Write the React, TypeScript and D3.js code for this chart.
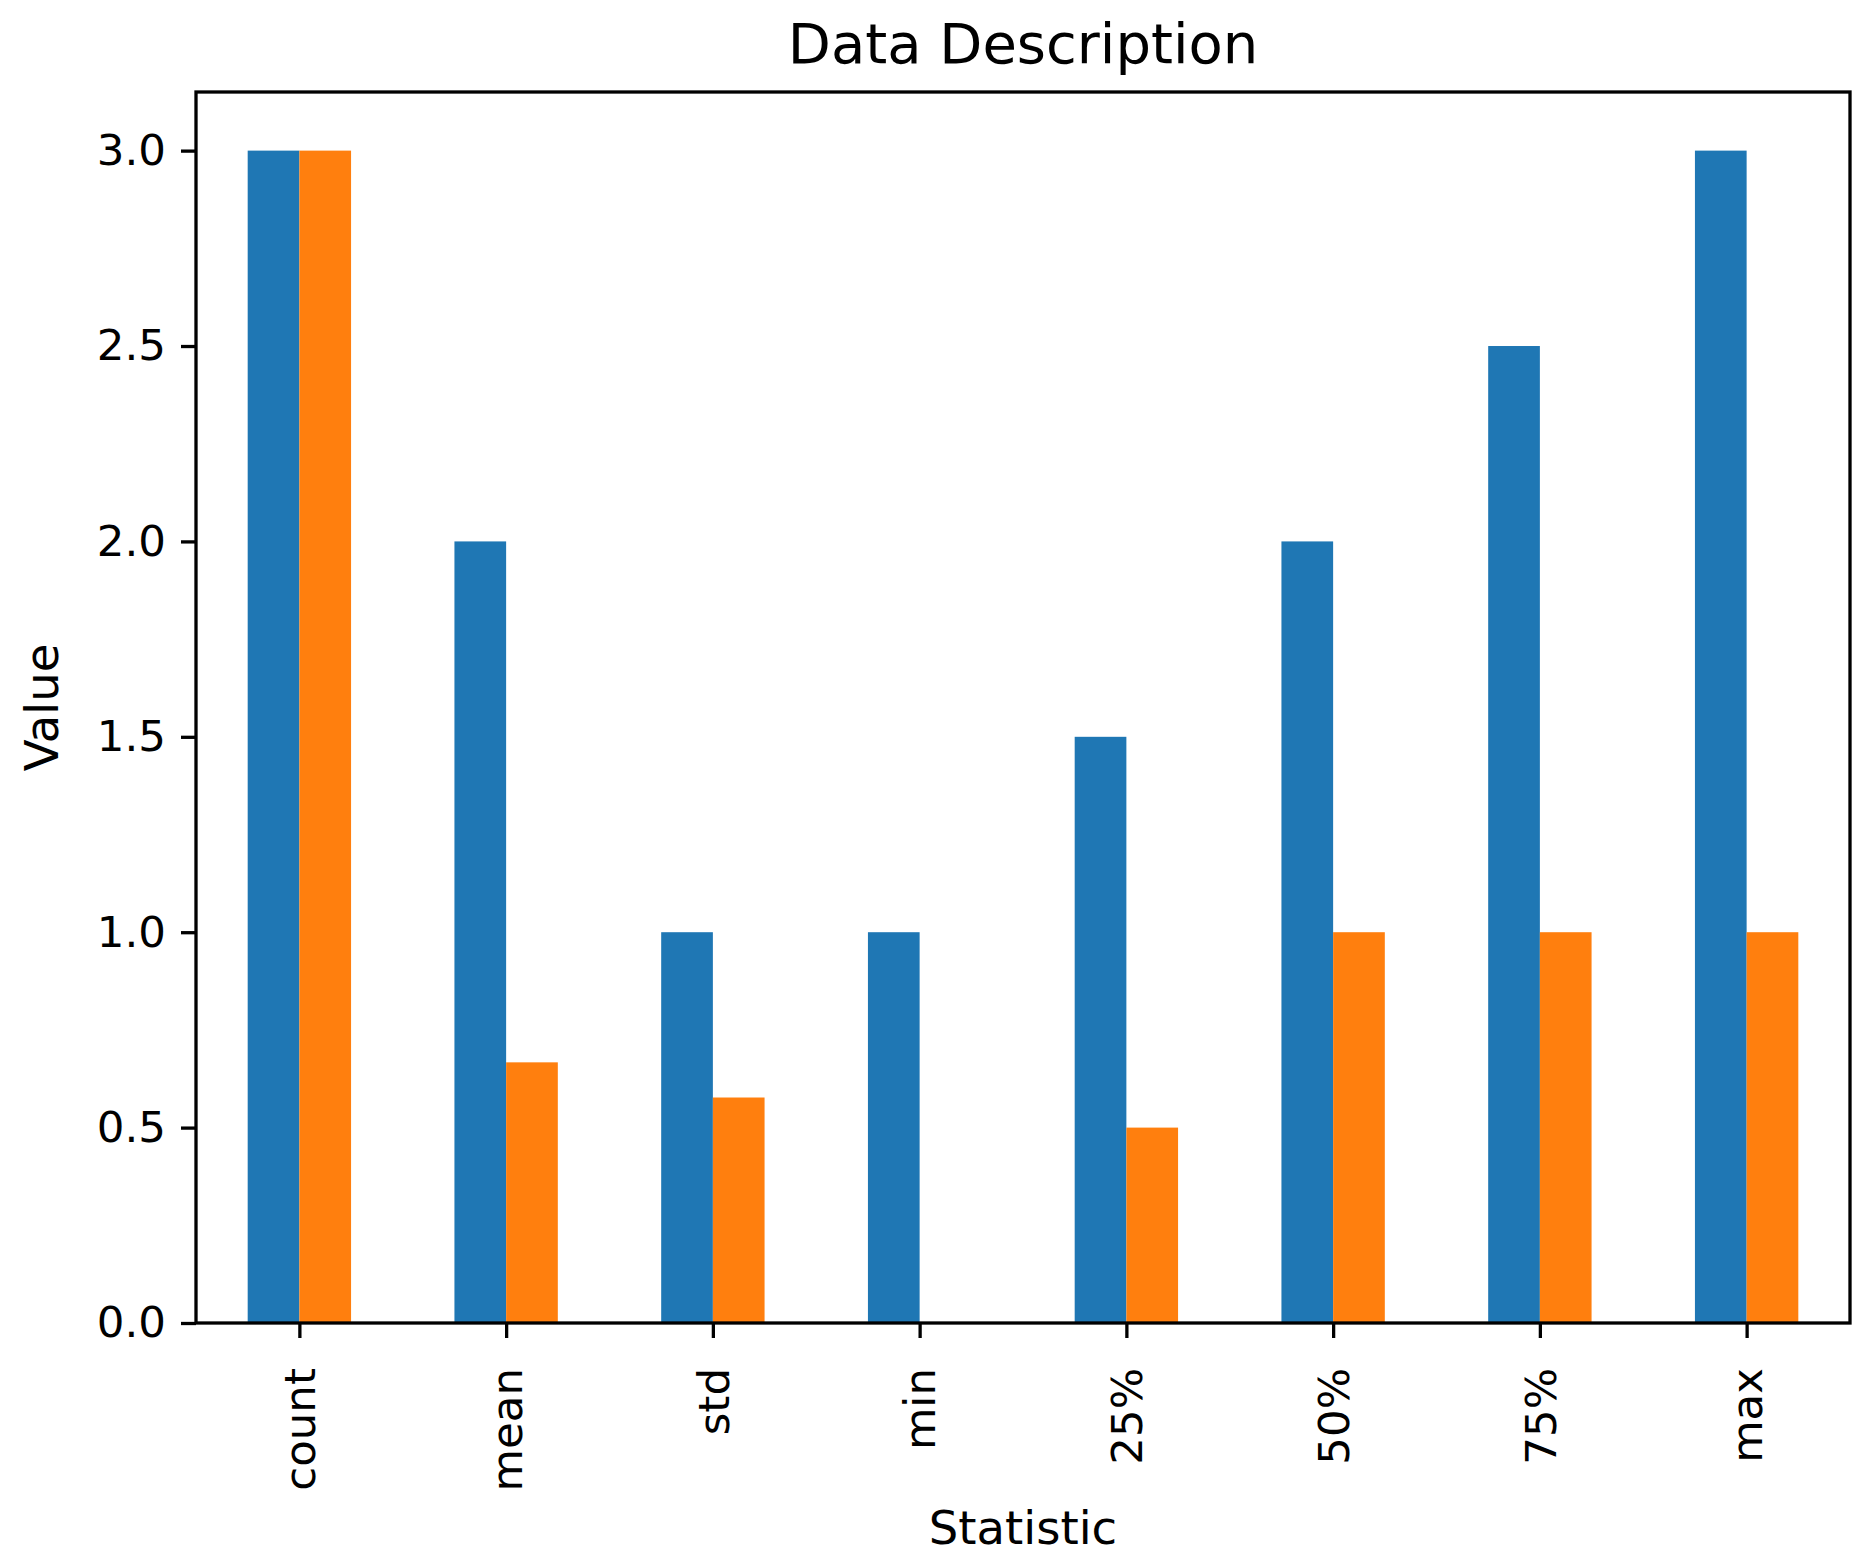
import React, { useEffect, useRef } from 'react';
import * as d3 from 'd3';

const categories = ['count', 'mean', 'std', 'min', '25%', '50%', '75%', 'max'];
const seriesA = [3, 2, 1, 1, 1.5, 2, 2.5, 3];
const seriesB = [3, 0.667, 0.577, 0, 0.5, 1, 1, 1];
const yTicks = [0, 0.5, 1.0, 1.5, 2.0, 2.5, 3.0];
const colors = ['#1f77b4', '#ff7f0e'];

const App = () => {
  const chart = useRef<SVGSVGElement>(null);

  useEffect(() => {
    const width = 1873;
    const height = 1568;
    const margin = { top: 92, right: 23, bottom: 245, left: 196 };
    const plotW = width - margin.left - margin.right;
    const plotH = height - margin.top - margin.bottom;
    const font = 'DejaVu Sans, sans-serif';

    const svg = d3.select(chart.current);
    svg.selectAll('*').remove();

    const xScale = d3
      .scaleLinear()
      .domain([-0.5, categories.length - 0.5])
      .range([0, plotW]);

    const yScale = d3.scaleLinear().domain([0, 3.15]).range([plotH, 0]);

    const g = svg
      .append('g')
      .attr('transform', `translate(${margin.left},${margin.top})`);

    const barW = 0.25;
    const series = [seriesA, seriesB];
    series.forEach((vals, s) => {
      g.selectAll(`.bar${s}`)
        .data(vals)
        .enter()
        .append('rect')
        .attr('x', (d, i) => xScale(i - barW + s * barW))
        .attr('width', xScale(barW) - xScale(0))
        .attr('y', (d) => yScale(d))
        .attr('height', (d) => yScale(0) - yScale(d))
        .attr('fill', colors[s]);
    });

    // frame
    g.append('rect')
      .attr('x', 0)
      .attr('y', 0)
      .attr('width', plotW)
      .attr('height', plotH)
      .attr('fill', 'none')
      .attr('stroke', 'black')
      .attr('stroke-width', 3.3);

    const yAxis = d3
      .axisLeft(yScale)
      .tickValues(yTicks)
      .tickFormat(d3.format('.1f'))
      .tickSize(15)
      .tickPadding(15);

    const yg = g.append('g').call(yAxis);
    yg.select('.domain').remove();
    yg.selectAll('line').attr('stroke', 'black').attr('stroke-width', 3.3);
    yg.selectAll('text')
      .attr('font-family', font)
      .attr('font-size', 43.5)
      .attr('fill', 'black');

    const xAxis = d3
      .axisBottom(xScale)
      .tickValues(d3.range(categories.length))
      .tickFormat((d) => categories[d as number])
      .tickSize(15);

    const xg = g.append('g').attr('transform', `translate(0,${plotH})`).call(xAxis);
    xg.select('.domain').remove();
    xg.selectAll('line').attr('stroke', 'black').attr('stroke-width', 3.3);
    xg.selectAll('text')
      .attr('font-family', font)
      .attr('font-size', 43.5)
      .attr('fill', 'black')
      .attr('text-anchor', 'end')
      .attr('transform', 'rotate(-90)')
      .attr('x', -45)
      .attr('y', 0)
      .attr('dy', '0.35em');

    svg
      .append('text')
      .attr('x', margin.left + plotW / 2)
      .attr('y', 63)
      .attr('text-anchor', 'middle')
      .attr('font-family', font)
      .attr('font-size', 56)
      .text('Data Description');

    svg
      .append('text')
      .attr('x', margin.left + plotW / 2)
      .attr('y', 1544)
      .attr('text-anchor', 'middle')
      .attr('font-family', font)
      .attr('font-size', 46.5)
      .text('Statistic');

    svg
      .append('text')
      .attr('transform', `translate(58,${margin.top + plotH / 2}) rotate(-90)`)
      .attr('text-anchor', 'middle')
      .attr('font-family', font)
      .attr('font-size', 46.5)
      .text('Value');
  }, []);

  return (
    <svg
      ref={chart}
      width={1873}
      height={1568}
      style={{ position: 'absolute', left: 0, top: 0, background: 'white' }}
    ></svg>
  );
};

export default App;
